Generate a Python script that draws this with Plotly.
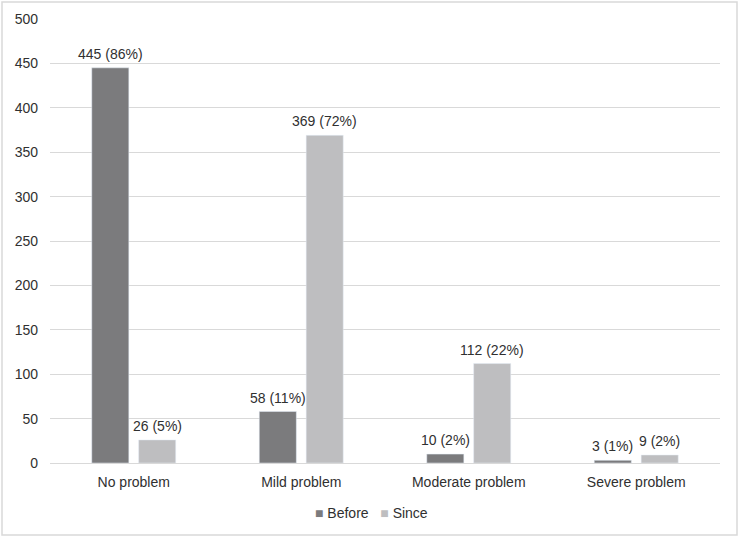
import plotly.graph_objects as go

categories = ["No problem", "Mild problem", "Moderate problem", "Severe problem"]
before = [445, 58, 10, 3]
before_pct = [86, 11, 2, 1]
since = [26, 369, 112, 9]
since_pct = [5, 72, 22, 2]
y_ticks = [0, 50, 100, 150, 200, 250, 300, 350, 400, 450, 500]
series_names = ["Before", "Since"]
series_colors = ["#7b7b7d", "#bebec0"]

W, H = 739, 537
ml, mr, mt, mb = 50, 19, 19, 74
pw, ph = W - ml - mr, H - mt - mb

fam = "Liberation Sans, Arial, sans-serif"
txt_col = "#303030"
fs = 14
bargap, bargroupgap = 0.44, 0.21
cat_w = pw / len(categories)
slot = cat_w * (1 - bargap) / 2

fig = go.Figure()
annotations = []
for i, (name, vals, pcts, col) in enumerate(zip(series_names, [before, since], [before_pct, since_pct], series_colors)):
    fig.add_bar(x=categories, y=vals, name=name, marker_color=col)
    shift = (i - 0.5) * slot
    for c, v, p in zip(categories, vals, pcts):
        annotations.append(dict(x=c, y=v, xref="x", yref="y", text=f"{v} ({p}%)",
                                showarrow=False, yanchor="bottom", xanchor="center",
                                xshift=shift, yshift=4,
                                font=dict(family=fam, size=fs, color=txt_col)))

nb = "\u00a0"
legend_text = (nb * 3).join(
    f"<span style='color:{c}'>■</span>{nb}{n}" for n, c in zip(series_names, series_colors))
annotations.append(dict(xref="paper", yref="paper", x=(313 - ml) / pw, y=-(513 - mt - ph) / ph,
                        yanchor="middle", xanchor="left", showarrow=False,
                        text=legend_text, font=dict(family=fam, size=fs, color=txt_col)))

fig.update_layout(
    width=W, height=H,
    margin=dict(l=ml, r=mr, t=mt, b=mb),
    paper_bgcolor="white", plot_bgcolor="white",
    font=dict(family=fam, size=fs, color=txt_col),
    barmode="group", bargap=bargap, bargroupgap=bargroupgap,
    showlegend=False,
    xaxis=dict(showgrid=False, showline=True, linecolor="#d9d9d9", linewidth=1,
               ticks="", automargin=False, ticklabelstandoff=6,
               tickfont=dict(size=fs, color=txt_col)),
    yaxis=dict(range=[0, 500], tickvals=y_ticks, showgrid=True, gridcolor="#d9d9d9",
               gridwidth=1, zeroline=False, ticks="", showline=False, automargin=False,
               ticklabelstandoff=11, tickfont=dict(size=fs, color=txt_col)),
    annotations=annotations,
    shapes=[dict(type="rect", xref="paper", yref="paper",
                 x0=-(ml - 2) / pw, x1=1 + (mr - 2) / pw,
                 y0=-(mb - 2) / ph, y1=1 + (mt - 2) / ph,
                 line=dict(color="#d9d9d9", width=1.5), layer="below")],
)

fig.write_html("out.html", config={"displayModeBar": False},
               post_script="document.body.style.margin='0';document.body.style.overflow='hidden';")
